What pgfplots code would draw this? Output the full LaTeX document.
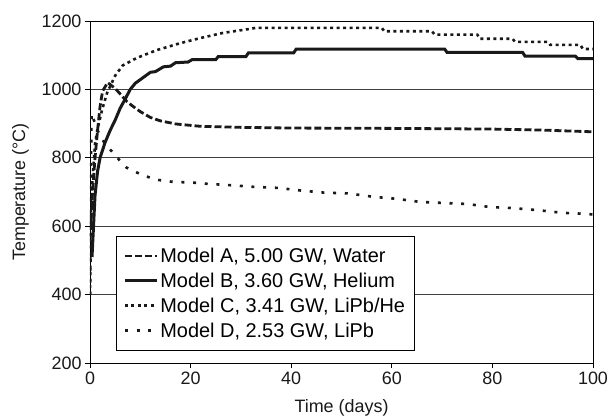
\documentclass[border=0pt]{standalone}
\usepackage{fontspec}
\setmainfont{Liberation Sans}
\usepackage{pgfplots}
\pgfplotsset{compat=1.18}

\begin{document}
\begin{tikzpicture}[x=1bp,y=1bp]
\begin{axis}[
  at={(0,0)},anchor=south west,
  scale only axis,width=503bp,height=342bp,
  xmin=0,xmax=100,ymin=200,ymax=1200,
  xtick={0,20,...,100},ytick={200,400,...,1200},
  tick pos=left,tick align=outside,major tick length=5bp,
  every tick/.style={black,line width=0.8bp},
  axis line style={black,line width=0.9bp},
  ymajorgrids,grid style={black!75,line width=0.9bp},
  /pgf/number format/assume math mode=true,
  /pgf/number format/1000 sep={},
  tick label style={font=\fontsize{18}{21}\selectfont,text=black!90},
  label style={font=\fontsize{18}{21}\selectfont,text=black!90},
  xlabel={Time (days)},ylabel={Temperature (°C)},
  xlabel style={yshift=-8bp},ylabel style={yshift=6bp},
  legend cell align=left,
  legend style={at={(0.052,0.035)},anchor=south west,draw=black,line width=0.8bp,
    font=\fontsize{20}{24}\selectfont,inner xsep=7bp,inner ysep=10bp,row sep=5bp},
  legend image code/.code={\draw[line width=2.8bp,#1] (0bp,0bp) -- (32bp,0bp);},
]
% Model A
\addplot[black!90,line width=2.8bp,dash pattern=on 7bp off 3bp] coordinates {
(0,560)(0.5,700)(1,800)(1.5,880)(2,950)(2.5,995)(3.5,1020)(5,1003)(5.8,990)(7.3,965)
(8.4,952)(10,935)(12,918)(14,908)(17,899)(22,892)(30,889)(40,887)(60,886)(80,884)
(90,881)(100,876)};
% Model B
\addplot[black!90,line width=3bp] coordinates {
(0.4,510)(0.7,600)(1.0,690)(1.5,760)(2,800)(3,845)(4,880)(5,910)(6,945)(7,972)
(8,1000)(9,1018)(10.6,1035)(12,1050)(13,1052)(14.6,1066)(16,1068)(17,1078)(19.5,1080)
(20.3,1087)(25,1087)(25.5,1096)(31,1096)(31.5,1107)(40.5,1107)(41,1118)(70.5,1118)
(71,1108)(86,1108)(86.5,1097)(96.5,1097)(97,1090)(100,1090)};
% Model C
\addplot[black!90,line width=2.6bp,dash pattern=on 3bp off 3.5bp] coordinates {
(0,400)(0.2,600)(0.5,740)(1,840)(1.5,885)(2.4,940)(3.4,990)(5,1040)(6.5,1070)(9.3,1092)
(13.3,1115)(17.9,1135)(21.9,1150)(26.4,1165)(31.8,1177)(33,1180)(58,1180)(58.5,1170)
(68,1170)(68.5,1160)(77,1160)(77.5,1148)(84,1148)(84.5,1139)(91,1139)(91.5,1130)
(97.5,1130)(98,1118)(100,1118)};
% Model D
\addplot[black!90,line width=2.6bp,dash pattern=on 3bp off 8.7bp] coordinates {
(0,400)(0.3,930)(1.5,880)(3,840)(4.4,818)(5.8,794)(7.3,771)(9.3,757)(11.3,745)(13.7,735)
(16.3,730)(20.9,727)(23.2,724)(27.8,720)(32.6,715)(37.4,712)(42.1,704)(46.7,698)
(51.3,696)(56.3,686)(61,680)(65.6,671)(70.2,668)(75,665)(79.5,656)(84,653)(89,647)
(94,639)(98.8,636)(100,634)};
\legend{{Model A, 5.00 GW, Water},{Model B, 3.60 GW, Helium},{Model C, 3.41 GW, LiPb/He},{Model D, 2.53 GW, LiPb}}
\end{axis}
\pgfresetboundingbox
\useasboundingbox (-90,-56) rectangle (518,363);
\end{tikzpicture}
\end{document}
